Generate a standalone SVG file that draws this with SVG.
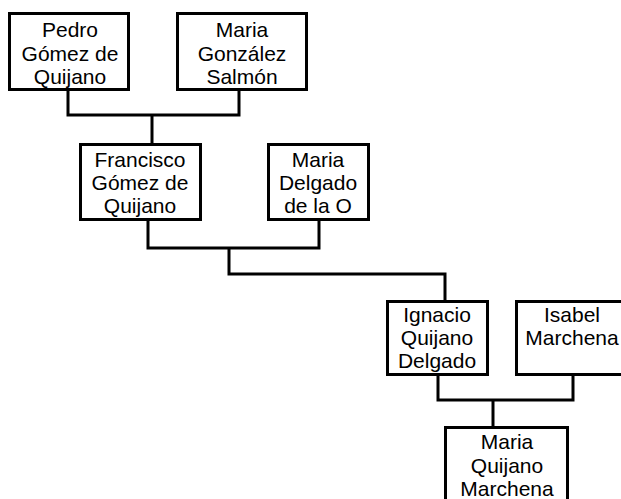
<svg xmlns="http://www.w3.org/2000/svg" width="621" height="499" viewBox="0 0 621 499">
<style>
.box{fill:#fff;stroke:#000;stroke-width:3}
.ln{fill:none;stroke:#000;stroke-width:3}
text{font-family:"Liberation Sans",Arial,sans-serif;font-size:21px;fill:#000;text-anchor:middle}
</style>
<rect width="621" height="499" fill="#fff"/>
<g id="connectors">
<polyline class="ln" points="68,89 68,115 239,115 239,89"/>
<line class="ln" x1="152" y1="115" x2="152" y2="144"/>
<polyline class="ln" points="148,220 148,248 319,248 319,219"/>
<polyline class="ln" points="229,248 229,274 445,274 445,301"/>
<polyline class="ln" points="438,374 438,400 573,400 573,374"/>
<line class="ln" x1="493" y1="400" x2="493" y2="427"/>
</g>
<g id="pedro">
<rect class="box" x="9.5" y="13.5" width="119" height="76"/>
<text x="70" y="37">Pedro</text><text x="70" y="61">Gómez de</text><text x="70" y="84">Quijano</text>
</g>
<g id="maria-gonzalez">
<rect class="box" x="177.5" y="13.5" width="129" height="76"/>
<text x="242" y="37">Maria</text><text x="242" y="61">González</text><text x="242" y="84">Salmón</text>
</g>
<g id="francisco">
<rect class="box" x="80.5" y="144.5" width="120" height="75"/>
<text x="140" y="167">Francisco</text><text x="140" y="190">Gómez de</text><text x="140" y="213">Quijano</text>
</g>
<g id="maria-delgado">
<rect class="box" x="268.5" y="144.5" width="100" height="75"/>
<text x="318" y="167">Maria</text><text x="318" y="190">Delgado</text><text x="318" y="213">de la O</text>
</g>
<g id="ignacio">
<rect class="box" x="387.5" y="301.5" width="100" height="73"/>
<text x="437" y="322">Ignacio</text><text x="437" y="345">Quijano</text><text x="437" y="368">Delgado</text>
</g>
<g id="isabel">
<rect class="box" x="516.5" y="301.5" width="114" height="73"/>
<text x="572" y="322">Isabel</text><text x="572" y="345">Marchena</text>
</g>
<g id="maria-quijano">
<rect class="box" x="445.5" y="427.5" width="122" height="80"/>
<text x="507" y="449">Maria</text><text x="507" y="473">Quijano</text><text x="507" y="496">Marchena</text>
</g>
</svg>
